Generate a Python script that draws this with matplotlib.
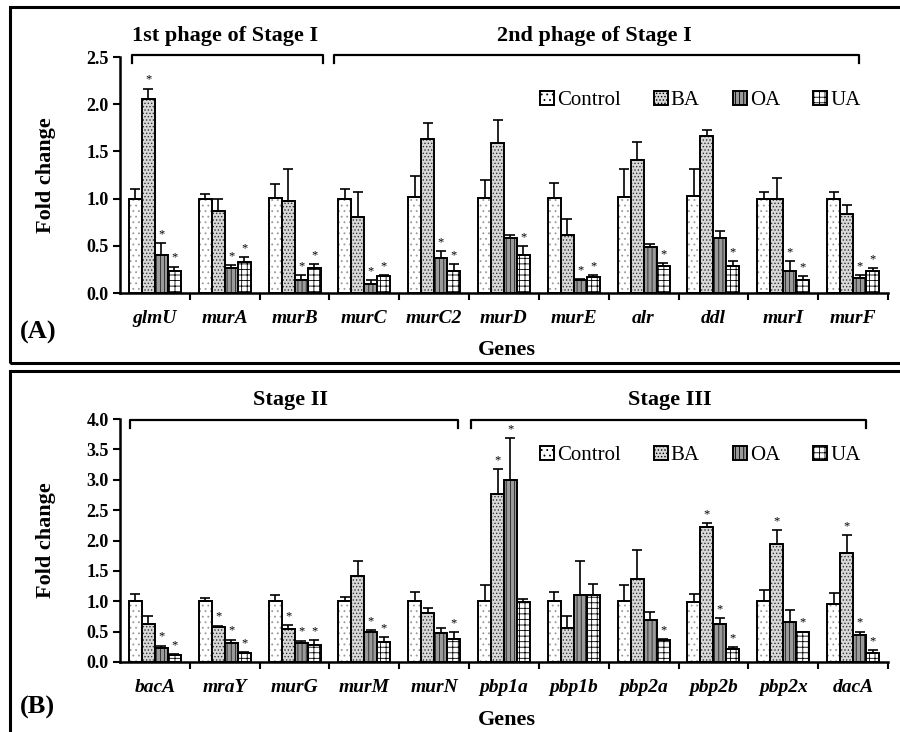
import matplotlib.pyplot as plt
from matplotlib.patches import Rectangle
import numpy as np

plt.rcParams['font.family'] = ['Liberation Serif', 'DejaVu Serif']
plt.rcParams['hatch.linewidth'] = 0.6

series = ["Control", "BA", "OA", "UA"]

# panel A
genesA = ["glmU", "murA", "murB", "murC", "murC2", "murD", "murE", "alr", "ddl", "murI", "murF"]
ctrlA = [1.00, 1.00, 1.01, 1.00, 1.02, 1.01, 1.01, 1.02, 1.03, 1.00, 1.00]
baA = [2.05, 0.87, 0.97, 0.81, 1.63, 1.59, 0.61, 1.41, 1.66, 1.00, 0.84]
oaA = [0.40, 0.27, 0.14, 0.10, 0.37, 0.58, 0.14, 0.49, 0.58, 0.23, 0.16]
uaA = [0.23, 0.33, 0.26, 0.18, 0.23, 0.40, 0.17, 0.29, 0.29, 0.14, 0.23]
ctrlA_err = [0.10, 0.045, 0.145, 0.10, 0.22, 0.19, 0.16, 0.29, 0.28, 0.07, 0.07]
baA_err = [0.115, 0.13, 0.34, 0.26, 0.17, 0.24, 0.17, 0.19, 0.07, 0.22, 0.09]
oaA_err = [0.13, 0.03, 0.05, 0.04, 0.07, 0.03, 0.01, 0.03, 0.08, 0.11, 0.03]
uaA_err = [0.05, 0.05, 0.05, 0.01, 0.08, 0.10, 0.02, 0.03, 0.05, 0.04, 0.03]
starsA = [
    [False] * 11,
    [True, False, False, False, False, False, False, False, False, False, False],
    [True, True, True, True, True, False, True, False, False, True, True],
    [True, True, True, True, True, True, True, True, True, True, True],
]

# panel B
genesB = ["bacA", "mraY", "murG", "murM", "murN", "pbp1a", "pbp1b", "pbp2a", "pbp2b", "pbp2x", "dacA"]
ctrlB = [1.00, 1.00, 1.00, 1.00, 1.00, 1.01, 1.01, 1.01, 0.99, 1.01, 0.95]
baB = [0.63, 0.57, 0.54, 1.41, 0.80, 2.77, 0.56, 1.37, 2.22, 1.94, 1.79]
oaB = [0.23, 0.31, 0.31, 0.50, 0.48, 2.99, 1.11, 0.69, 0.63, 0.66, 0.44]
uaB = [0.12, 0.14, 0.28, 0.33, 0.38, 0.99, 1.11, 0.37, 0.21, 0.49, 0.14]
ctrlB_err = [0.12, 0.05, 0.10, 0.07, 0.15, 0.25, 0.15, 0.25, 0.13, 0.17, 0.18]
baB_err = [0.12, 0.03, 0.07, 0.25, 0.09, 0.40, 0.20, 0.48, 0.07, 0.23, 0.30]
oaB_err = [0.04, 0.06, 0.04, 0.03, 0.08, 0.69, 0.56, 0.13, 0.09, 0.20, 0.06]
uaB_err = [0.01, 0.02, 0.08, 0.08, 0.11, 0.05, 0.17, 0.01, 0.04, 0.01, 0.06]
starsB = [
    [False] * 11,
    [False, True, True, False, False, True, False, False, True, True, True],
    [True, True, True, True, False, True, False, False, True, False, True],
    [True, True, True, True, True, False, False, True, True, True, True],
]

# fill colour, hatch, hatch colour
styles = [
    ("white", "...", "#9a9a9a"),
    ("#d8d8d8", ".....", "#333333"),
    ("#9a9a9a", "||||", "#222222"),
    ("white", "+++", "black"),
]

fig = plt.figure(figsize=(9, 7.32), dpi=100)

# panel frames
for (x0, y0, x1, y1) in [(10, 7, 905, 363), (10, 371, 905, 745)]:
    fig.patches.append(Rectangle((x0 / 900, 1 - y1 / 732), (x1 - x0) / 900, (y1 - y0) / 732,
                                 transform=fig.transFigure, fill=False, edgecolor="black",
                                 linewidth=2.2, clip_on=False))


def draw_panel(ax, genes, vals, errs, stars, ymax, brackets, legend_y):
    x = np.arange(len(genes))
    w = 0.186
    for k in range(4):
        pos = x + (k - 1.5) * w
        face, hatch, hcol = styles[k]
        ax.bar(pos, vals[k], w, facecolor=face, hatch=hatch, edgecolor=hcol, linewidth=0)
        ax.bar(pos, vals[k], w, fill=False, edgecolor="black", linewidth=1.4)
        ax.errorbar(pos, vals[k], yerr=[np.zeros(len(genes)), errs[k]], fmt="none",
                    ecolor="black", elinewidth=1.2, capsize=3.5, capthick=1.2)
        for i in range(len(genes)):
            if stars[k][i]:
                ax.text(pos[i], vals[k][i] + errs[k][i] + ymax * 0.012, "*", ha="center",
                        va="bottom", fontsize=9)
    ax.set_xlim(-0.5, len(genes) - 0.5)
    ax.set_ylim(0, ymax)
    ax.set_yticks(np.arange(0, ymax + 0.01, 0.5))
    ax.set_yticklabels(["%.1f" % v for v in np.arange(0, ymax + 0.01, 0.5)],
                       fontsize=13, fontweight="bold")
    ax.set_xticks(x)
    ax.set_xticklabels(genes, fontsize=14, fontweight="bold", fontstyle="italic")
    ax.set_xticks(np.arange(0.5, len(genes), 1.0), minor=True)
    ax.tick_params(axis="x", which="major", length=0, pad=12)
    ax.tick_params(axis="x", which="minor", length=5, width=1.5, direction="out")
    ax.tick_params(axis="y", length=5, width=1.5, direction="out", pad=3)
    for s in ["top", "right"]:
        ax.spines[s].set_visible(False)
    for s in ["left", "bottom"]:
        ax.spines[s].set_linewidth(1.8)
    ax.set_ylabel("Fold change", fontsize=16, fontweight="bold", labelpad=22)

    for (xa, xb, ytop, hook, label, lx, ly) in brackets:
        ax.plot([xa, xa, xb, xb], [ytop - hook, ytop, ytop, ytop - hook], color="black",
                linewidth=1.6, clip_on=False)
        ax.text(lx, ly, label, ha="center", va="center", fontsize=16, fontweight="bold")

    # legend proxies with black outline and hatch
    handles = []
    for k in range(4):
        face, hatch, hcol = styles[k]
        handles.append(Rectangle((0, 0), 1, 1, facecolor=face, hatch=hatch, edgecolor="black",
                                 linewidth=1.4))
    ax.legend(handles, series, loc="center right", bbox_to_anchor=(0.975, legend_y), ncol=4,
              frameon=False, fontsize=15, handlelength=0.65, handleheight=0.65,
              handletextpad=0.15, columnspacing=1.6, borderaxespad=0)


axA = fig.add_axes([120 / 900, 1 - 293 / 732, 768 / 900, 236 / 732])
draw_panel(axA, genesA, [ctrlA, baA, oaA, uaA], [ctrlA_err, baA_err, oaA_err, uaA_err], starsA, 2.5,
           [(-0.33, 2.41, 2.52, 0.08, "1st phage of Stage I", 1.0, 2.72),
            (2.57, 10.09, 2.52, 0.08, "2nd phage of Stage I", 6.3, 2.72)],
           0.815)

axB = fig.add_axes([120 / 900, 1 - 662 / 732, 768 / 900, 243 / 732])
draw_panel(axB, genesB, [ctrlB, baB, oaB, uaB], [ctrlB_err, baB_err, oaB_err, uaB_err], starsB, 4.0,
           [(-0.36, 4.34, 3.98, 0.12, "Stage II", 1.94, 4.31),
            (4.53, 10.19, 3.98, 0.12, "Stage III", 7.38, 4.31)],
           0.85)

# axis titles and panel letters placed in figure pixels
fig.text(507 / 900, 1 - 350 / 732, "Genes", ha="center", va="center", fontsize=16, fontweight="bold")
fig.text(507 / 900, 1 - 720 / 732, "Genes", ha="center", va="center", fontsize=16, fontweight="bold")
fig.text(20 / 900, 1 - 332 / 732, "(A)", ha="left", va="center", fontsize=19, fontweight="bold")
fig.text(20 / 900, 1 - 707 / 732, "(B)", ha="left", va="center", fontsize=19, fontweight="bold")

plt.savefig("out.png", dpi=100)
